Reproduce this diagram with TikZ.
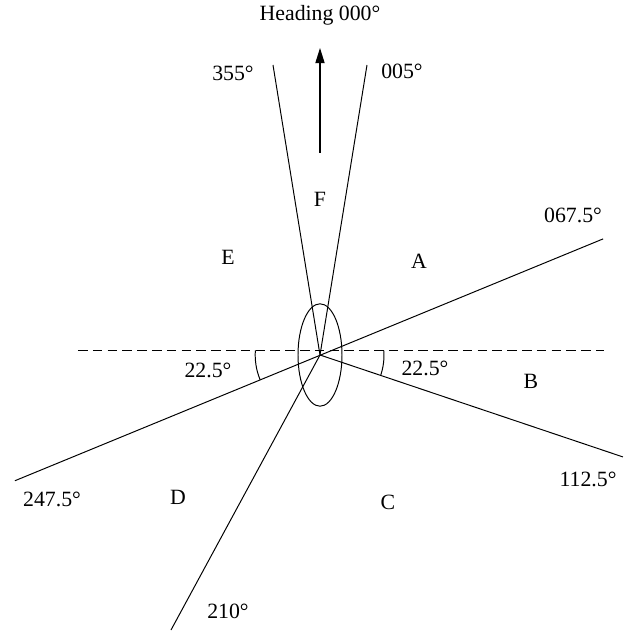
\documentclass[tikz,border=0pt]{standalone}
\usepackage{fontspec}
\setmainfont{Liberation Serif}
\usepackage{tikz}
\usetikzlibrary{arrows.meta,positioning,calc}

\begin{document}
\begin{tikzpicture}[
    every node/.style={font=\fontsize{15.5}{18}\selectfont, inner sep=1pt},
    ray/.style={line width=0.7pt},
    datum/.style={line width=0.7pt, dash pattern=on 2.4mm off 1.3mm},
    head/.style={-{Triangle[length=3.8mm, width=2.3mm]}, line width=0.9pt},
    sector/.style={font=\fontsize{15.5}{18}\selectfont}
]
    \useasboundingbox (-8,-6.95) rectangle (7.7,8.875);

    % Centre of the wake and ray ends
    \coordinate (O) at (0,0);
    \coordinate (P005) at (1.175,7.25);
    \coordinate (P355) at (-1.175,7.25);
    \coordinate (P067) at (22.3:7.65);
    \coordinate (P247) at (202.4:8.25);
    \coordinate (P112) at (-18.6:7.99);
    \coordinate (P210) at (-3.725,-6.875);
    \coordinate (DL) at (-6.05,0.12);
    \coordinate (DR) at (7.1,0.12);
    \coordinate (HT) at (0,5.05);
    \coordinate (HH) at (0,7.675);

    % Datum line through the centre
    \draw[datum] (DL) -- (DR);

    % Sector boundaries
    \draw[ray] (O) -- (P005);
    \draw[ray] (O) -- (P355);
    \draw[ray] (P247) -- (P067);
    \draw[ray] (O) -- (P112);
    \draw[ray] (O) -- (P210);

    % Ship's ellipse
    \draw[ray] (O) ellipse [x radius=0.55cm, y radius=1.28cm];

    % Angle arcs
    \draw[ray] (O) ++(176:1.62) arc[start angle=176, end angle=202.4, radius=1.62];
    \draw[ray] (O) ++(4:1.6) arc[start angle=4, end angle=-18.6, radius=1.6];

    % Heading arrow
    \draw[head] (HT) -- (HH);
    \node (heading) at (0,8.5) {Heading 000\textdegree};

    % Bearing labels
    \node (b355) at (-2.175,7.05) {355\textdegree};
    \node (b005) at (2.05,7.1) {005\textdegree};
    \node (b067) at (6.325,3.5) {067.5\textdegree};
    \node (b112) at (6.7,-3.1) {112.5\textdegree};
    \node (b247) at (-6.7,-3.6) {247.5\textdegree};
    \node (b210) at (-2.3,-6.4) {210\textdegree};
    \node (angL) at (-2.8,-0.375) {22.5\textdegree};
    \node (angR) at (2.625,-0.325) {22.5\textdegree};

    % Sector letters
    \node[sector] (F) at (0,3.9) {F};
    \node[sector] (E) at (-2.3,2.45) {E};
    \node[sector] (A) at (2.475,2.35) {A};
    \node[sector] (B) at (5.275,-0.65) {B};
    \node[sector] (C) at (1.7,-3.675) {C};
    \node[sector] (D) at (-3.55,-3.55) {D};
\end{tikzpicture}
\end{document}
